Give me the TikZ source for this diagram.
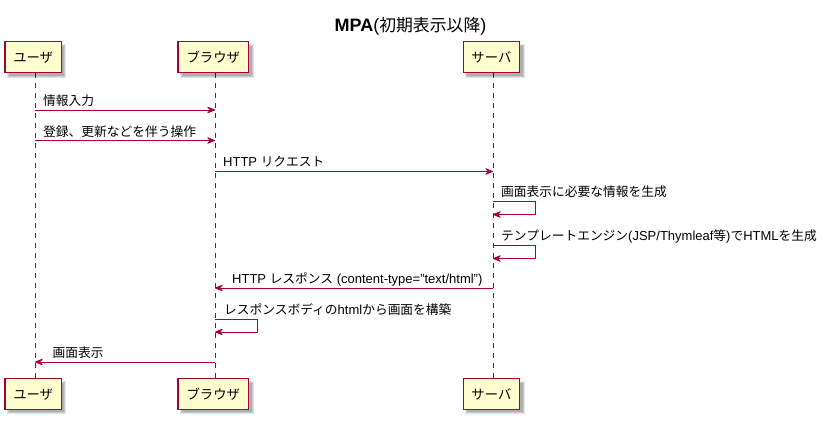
\documentclass[tikz,border=0pt]{standalone}
\usepackage{fontspec}
\setmainfont{Liberation Sans}
\newfontfamily\jp{Noto Sans CJK JP}[Scale=0.98]
\usetikzlibrary{arrows.meta}
\definecolor{pumlred}{HTML}{A80036}
\definecolor{pumlfill}{HTML}{FEFECE}
\tikzset{
  partbox/.style={draw=pumlred, line width=1.3pt, fill=pumlfill, minimum width=#1, minimum height=31pt, inner sep=0pt,
    text height=11pt, text depth=1pt, font=\jp\fontsize{13.6}{15}\selectfont},
  lifeline/.style={draw=pumlred, line width=1pt, dash pattern=on 5pt off 5pt},
  msg/.style={draw=pumlred, line width=1pt, -{Stealth[length=10pt,width=8pt,inset=4pt,round=false]}},
  msgtext/.style={anchor=base west, inner sep=0pt, font=\fontsize{13}{15}\selectfont},
}
\newcommand{\shadowbox}[4]{% x1 y1 x2 y2
  \fill[black, opacity=0.10] (#1+2,#2+2) rectangle (#3+5,#4+5);
  \fill[black, opacity=0.12] (#1+3,#2+3) rectangle (#3+4,#4+4);
  \fill[black, opacity=0.12] (#1+4,#2+4) rectangle (#3+3,#4+3);
}
\begin{document}
\begin{tikzpicture}[x=1pt,y=-1pt]
\useasboundingbox (0,0) rectangle (823,423);
\fill[white] (0,0) rectangle (823,423);

% title
\node[anchor=base, inner sep=0pt] (title) at (410.5,31)
  {{\fontsize{18}{20}\selectfont\bfseries MPA}{\fontsize{18}{20}\selectfont(}{\jp\fontsize{17.2}{20}\selectfont 初期表示以降}{\fontsize{18}{20}\selectfont)}};

% lifeline coordinates
\coordinate (ut) at (35,73);   \coordinate (ub) at (35,379);
\coordinate (bt) at (215,73);  \coordinate (bb) at (215,379);
\coordinate (st) at (493,73);  \coordinate (sb) at (493,379);
\draw[lifeline] (ut) -- (ub);
\draw[lifeline] (bt) -- (bb);
\draw[lifeline] (st) -- (sb);

% shadows
\shadowbox{5}{41.5}{61.3}{72.5}
\shadowbox{178}{41.5}{248.5}{72.5}
\shadowbox{463.3}{41.5}{519.5}{72.5}
\shadowbox{5}{379}{61.3}{409.3}
\shadowbox{178}{379}{248.5}{409.3}
\shadowbox{463.3}{379}{519.5}{409.3}

% participants
\node[partbox=56.3pt] (userTop) at (33.15,57) {ユーザ};
\node[partbox=70.5pt] (browserTop) at (213.25,57) {ブラウザ};
\node[partbox=56.2pt] (serverTop) at (491.4,57) {サーバ};
\node[partbox=56.3pt] (userBot) at (33.15,394.2) {ユーザ};
\node[partbox=70.5pt] (browserBot) at (213.25,394.2) {ブラウザ};
\node[partbox=56.2pt] (serverBot) at (491.4,394.2) {サーバ};

% message 1
\coordinate (m1a) at (35,110); \coordinate (m1b) at (215,110);
\draw[msg] (m1a) -- (m1b);
\node[msgtext] (t1) at (43,105.5) {\jp 情報入力};

% message 2
\coordinate (m2a) at (35,140.5); \coordinate (m2b) at (215,140.5);
\draw[msg] (m2a) -- (m2b);
\node[msgtext] (t2) at (43,136) {\jp 登録、更新などを伴う操作};

% message 3
\coordinate (m3a) at (215,171.5); \coordinate (m3b) at (493,171.5);
\draw[msg] (m3a) -- (m3b);
\node[msgtext] (t3) at (223,166.5) {HTTP {\jp リクエスト}};

% message 4 (self)
\coordinate (m4a) at (493,201.5); \coordinate (m4b) at (493,214.5);
\draw[msg] (m4a) -- ++(42,0) |- (m4b);
\node[msgtext] (t4) at (501,196.5) {\jp 画面表示に必要な情報を生成};

% message 5 (self)
\coordinate (m5a) at (493,245.5); \coordinate (m5b) at (493,258.5);
\draw[msg] (m5a) -- ++(42,0) |- (m5b);
\node[msgtext] (t5) at (501,240.5) {{\jp テンプレートエンジン}(JSP/Thymleaf{\jp 等}){\jp で}HTML{\jp を生成}};

% message 6
\coordinate (m6a) at (493,288); \coordinate (m6b) at (215,288);
\draw[msg] (m6a) -- (m6b);
\node[msgtext] (t6) at (232,283) {HTTP {\jp レスポンス} (content-type="text/html")};

% message 7 (self)
\coordinate (m7a) at (215,319); \coordinate (m7b) at (215,332);
\draw[msg] (m7a) -- ++(42,0) |- (m7b);
\node[msgtext] (t7) at (224,314.5) {{\jp レスポンスボディの}html{\jp から画面を構築}};

% message 8
\coordinate (m8a) at (215,362); \coordinate (m8b) at (35,362);
\draw[msg] (m8a) -- (m8b);
\node[msgtext] (t8) at (52.5,357) {\jp 画面表示};
\end{tikzpicture}
\end{document}
